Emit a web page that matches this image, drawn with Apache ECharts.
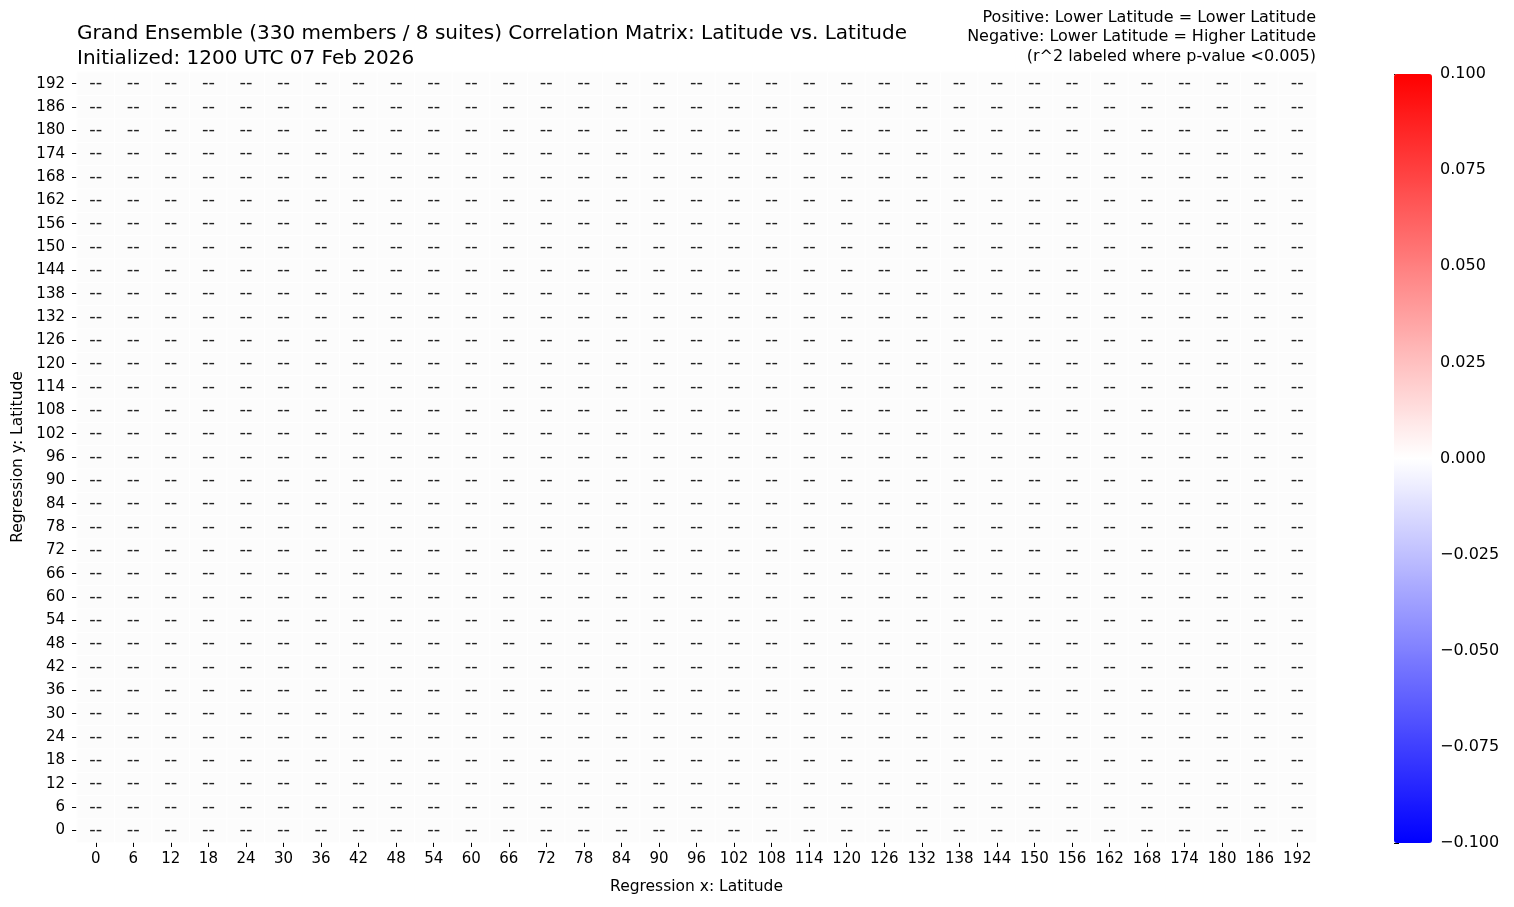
<!DOCTYPE html>
<html>
<head>
<meta charset="utf-8">
<script src="https://cdn.jsdelivr.net/npm/echarts@6/dist/echarts.min.js"></script>
<style>html,body{margin:0;padding:0;background:#fff}#chart{width:1514px;height:907px}</style>
</head>
<body>
<div id="chart"></div>
<script>
// Category labels (lead hours) on both axes
const xCategories = ['0','6','12','18','24','30','36','42','48','54','60','66','72','78','84','90','96','102','108','114','120','126','132','138','144','150','156','162','168','174','180','186','192'];
const yCategories = ['0','6','12','18','24','30','36','42','48','54','60','66','72','78','84','90','96','102','108','114','120','126','132','138','144','150','156','162','168','174','180','186','192'];
// Every cell in the reference is masked ("--"): no significant r^2 value
const maskedRow = [null,null,null,null,null,null,null,null,null,null,null,null,null,null,null,null,null,null,null,null,null,null,null,null,null,null,null,null,null,null,null,null,null];
const colorbarTicks = [-0.1,-0.075,-0.05,-0.025,0,0.025,0.05,0.075,0.1];
const colorMin = -0.1, colorMax = 0.1;

const FONT = 'DejaVu Sans';
const valued = [], masked = [];
yCategories.forEach((yc, yi) => {
  xCategories.forEach((xc, xi) => {
    const v = maskedRow[xi];
    if (v === null) masked.push([xi, yi, 0]); else valued.push([xi, yi, v]);
  });
});

const chart = echarts.init(document.getElementById('chart'));
chart.setOption({
  animation: false,
  textStyle: {fontFamily: FONT},
  title: [
    {text: 'Grand Ensemble (330 members / 8 suites) Correlation Matrix: Latitude vs. Latitude\nInitialized: 1200 UTC 07 Feb 2026',
     left: 77, top: 21, padding: 0,
     textStyle: {fontFamily: FONT, fontSize: 20, fontWeight: 'normal', color: '#000', lineHeight: 25}},
    {text: 'Positive: Lower Latitude = Lower Latitude\nNegative: Lower Latitude = Higher Latitude\n(r^2 labeled where p-value <0.005)',
     left: 1316, top: 8, padding: 0, textAlign: 'right',
     textStyle: {fontFamily: FONT, fontSize: 16, fontWeight: 'normal', color: '#000', lineHeight: 19.5, align: 'right'}}
  ],
  grid: [
    {left: 77, right: 198, top: 72, bottom: 65},
    {left: 1394, width: 38, top: 74, height: 769}
  ],
  xAxis: [
    {type: 'category', data: xCategories, gridIndex: 0,
     name: 'Regression x: Latitude', nameLocation: 'middle', nameGap: 37,
     nameTextStyle: {fontFamily: FONT, fontSize: 15.5, color: '#000'},
     axisLine: {show: false}, splitLine: {show: false},
     axisTick: {show: true, alignWithLabel: true, length: 5, lineStyle: {color: '#000'}},
     axisLabel: {fontFamily: FONT, fontSize: 15, color: '#000', margin: 10, interval: 0}},
    {type: 'value', gridIndex: 1, show: false, min: 0, max: 1,
     axisLine: {show: false}, axisTick: {show: false}, axisLabel: {show: false}, splitLine: {show: false}}
  ],
  yAxis: [
    {type: 'category', data: yCategories, gridIndex: 0,
     name: 'Regression y: Latitude', nameLocation: 'middle', nameGap: 51, nameRotate: 90,
     nameTextStyle: {fontFamily: FONT, fontSize: 15.5, color: '#000'},
     axisLine: {show: false}, splitLine: {show: false},
     axisTick: {show: true, alignWithLabel: true, length: 5, lineStyle: {color: '#000'}},
     axisLabel: {fontFamily: FONT, fontSize: 15, color: '#000', margin: 12, interval: 0}},
    {type: 'value', gridIndex: 1, position: 'right', min: colorMin, max: colorMax, interval: 0.025,
     axisLine: {show: false}, splitLine: {show: false},
     axisTick: {show: true, length: 5, lineStyle: {color: '#000'}},
     axisLabel: {fontFamily: FONT, fontSize: 16, color: '#000', margin: 8,
       formatter: v => (v < 0 ? '\u2212' : '') + Math.abs(v).toFixed(3)}}
  ],
  visualMap: {
    type: 'continuous', seriesIndex: 0, min: colorMin, max: colorMax,
    calculable: false, show: true, left: 1394, top: 74, padding: 0,
    itemWidth: 38, itemHeight: 769, text: null, showLabel: false,
    hoverLink: false, indicatorSize: 0, indicatorStyle: {opacity: 0},
    handleStyle: {opacity: 0}, borderWidth: 0,
    inRange: {color: ['#0000ff', '#ffffff', '#ff0000']}
  },
  series: [
    {type: 'heatmap', xAxisIndex: 0, yAxisIndex: 0, data: valued,
     label: {show: true, fontSize: 12, color: '#000', formatter: p => p.value[2].toFixed(2)},
     itemStyle: {borderColor: '#fff', borderWidth: 1}},
    {type: 'heatmap', xAxisIndex: 0, yAxisIndex: 0, data: masked,
     itemStyle: {color: '#fcfcfc', borderColor: '#fff', borderWidth: 1},
     label: {show: true, fontFamily: FONT, fontSize: 18, color: '#222', formatter: '--'}}
  ]
});
</script>
</body>
</html>
